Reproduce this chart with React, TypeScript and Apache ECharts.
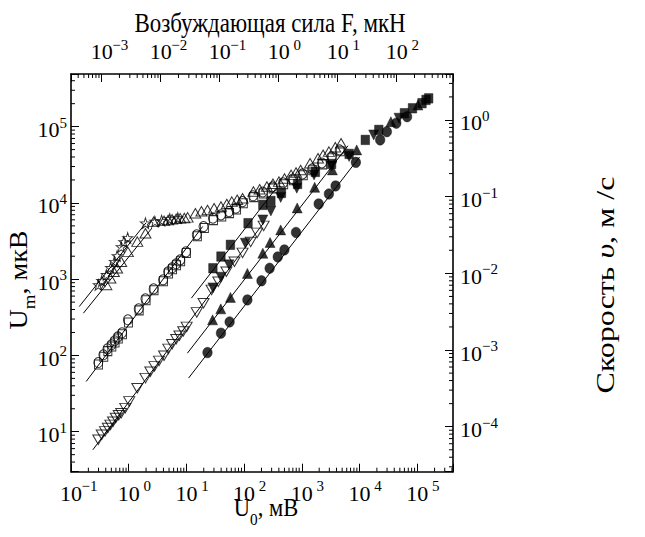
import { useEffect, useRef } from 'react';
import * as echarts from 'echarts';

// ---- axis ranges (log axes) ----
const U0_RANGE = [0.1, 4.17e5];      // bottom, U0, mV
const UM_RANGE = [2.99, 4.9e5];      // left, Um, uV
const F_RANGE = [3.02e-4, 899];      // top, F, uN
const V_RANGE = [2.59e-5, 3.98];     // right, v, m/s

// ---- data: [U0 (mV), Um (uV)] ----
const starOpen = [
  [0.297, 841], [0.341, 951], [0.41, 1140], [0.486, 1410], [0.566, 1700], [0.63, 2020],
  [0.741, 2650], [0.824, 3080], [0.959, 3480], [1.95, 5420], [2.84, 5690], [3.72, 5860],
  [5.14, 6170], [7.1, 6350],
];
const triUpOpen = [
  [0.41, 841], [0.482, 1030], [0.553, 1250], [0.63, 1390], [0.741, 1690], [0.968, 2280],
  [1.41, 3110], [1.95, 4010], [2.7, 5640], [4.1, 5810], [4.82, 5980], [5.66, 6080],
  [6.65, 6170], [7.82, 6270], [9.2, 6350], [10.5, 6460], [14.3, 7330], [18.2, 7760],
  [23.2, 8090], [30.2, 8510], [39.7, 8950], [50.1, 9660], [61.2, 10400], [75.9, 11000],
  [94, 11500], [145, 14100], [186, 15100], [248, 16400], [316, 17800], [402, 19000],
  [501, 20900], [653, 23300], [794, 25100], [953, 27000], [1390, 33100], [1910, 38500],
  [2340, 42700], [2950, 47000], [3800, 53700], [4790, 60500],
];
const circleOpen = [
  [0.297, 80.8], [0.364, 102], [0.428, 122], [0.502, 138], [0.571, 156], [0.65, 175],
  [0.766, 198], [0.968, 293], [1.49, 408], [1.95, 552], [2.7, 746], [3.94, 980],
  [4.82, 1250], [5.66, 1410], [6.65, 1590], [7.82, 1790], [9.82, 2280], [15.1, 3810],
  [19.8, 4890], [28.8, 6300], [39.7, 6970], [54.8, 7690], [71.9, 8530], [94, 10400],
  [143, 12400], [211, 13900], [310, 16200], [473, 18300], [697, 20600], [1030, 24000],
  [1510, 27900], [2230, 33400], [3280, 40100], [4530, 49500],
];
const squareOpen = [
  [0.3, 76], [0.37, 96], [0.435, 114], [0.51, 131], [0.58, 148], [0.66, 167], [0.78, 190],
  [0.99, 270], [1.52, 390], [2.0, 530], [2.75, 715], [4.0, 940], [4.9, 1190], [5.75, 1350],
  [6.75, 1520], [7.95, 1720], [10.0, 2200], [15.5, 3650], [20.5, 4700], [29.5, 5950],
  [41, 6650], [56, 7350], [74, 8200], [97, 9900], [147, 11900], [216, 13300], [318, 15500],
  [485, 17600], [714, 19800], [1060, 23000], [1550, 26800], [2290, 32000], [3360, 38500],
  [4650, 47500],
];
const triDownOpen = [
  [0.297, 7.83], [0.341, 9.12], [0.388, 10.1], [0.435, 11.2], [0.482, 12.3], [0.536, 13.5],
  [0.597, 15.1], [0.671, 16.4], [0.741, 17.5], [0.871, 20.4], [1.02, 25], [1.41, 37.2],
  [1.95, 50.4], [2.37, 61], [2.79, 71.9], [3.35, 84.9], [4.1, 98.9], [4.86, 122],
  [5.66, 140], [6.65, 163], [7.57, 181], [8.81, 206], [10.1, 237], [15.1, 367], [19.8, 484],
  [27.3, 724], [35.7, 923], [49.3, 1250], [68.1, 1690], [94, 2210], [130, 3080],
  [168, 4050], [218, 5000],
];
const squareFilled = [
  [28.8, 1390], [39.7, 1980], [57.9, 2820], [117, 5420], [211, 9420], [291, 10600],
  [444, 13500], [845, 17700], [1720, 25500], [3280, 32400], [6610, 43900], [12600, 67000],
  [21600, 90600], [60000, 150000], [82800, 174000], [121000, 203000], [142000, 224000],
  [158000, 235000],
];
const triDownFilled = [
  [28.8, 769], [39.7, 1060], [54.8, 1540], [105, 2960], [211, 5980], [291, 7850],
  [430, 11800], [818, 15600], [1630, 23300], [3280, 30500], [6610, 40500], [17600, 77800],
  [48300, 129000],
];
const triUpFilled = [
  [28.4, 293], [39.4, 408], [57.9, 577], [114, 1190], [211, 2190], [282, 3030], [430, 4430],
  [832, 8590], [1670, 16000], [3390, 27100], [8930, 49500], [35000, 116000], [103000, 192000],
];
const dotFilled = [
  [23.2, 109], [39.7, 196], [56.1, 275], [114, 535], [200, 951], [277, 1390], [383, 1960],
  [499, 2420], [793, 4100], [1960, 9700], [2950, 13100], [3850, 16700], [8650, 34000],
  [22800, 67000], [29800, 85900], [43400, 111000], [66800, 135000],
];

// ---- fitted straight lines (end points) ----
const fitStar = [[0.139, 438], [2.0, 5500]];
const fitTriUp = [[0.164, 358], [2.53, 4680]];
const fitCircle = [[0.183, 45.5], [19.1, 4900]];
const fitTriDown = [[0.239, 5.79], [224, 5620]];
const fitSquare = [[12.2, 564], [355, 15400]];
const fitTriFilled = [[10.4, 107], [6310, 56200]];
const fitDot = [[10.9, 50.5], [10000, 39800]];

const FONT = '"Liberation Serif", "Times New Roman", serif';
const STAR = 'path://M0,-10 L2.35,-3.24 L9.51,-3.09 L3.8,1.24 L5.88,8.09 L0,4 L-5.88,8.09 L-3.8,1.24 L-9.51,-3.09 L-2.35,-3.24 Z';

const expText = (v: number) => {
  const e = Math.log10(v);
  const r = Math.round(e);
  if (Math.abs(e - r) > 1e-6) return null;
  return r < 0 ? '\u2212' + (-r) : String(r);
};
const labelX = (v: number) => {
  const s = expText(v);
  return s === null ? '' : `{p| }{b|10}{e|${s}}`;
};
const labelY = (v: number) => {
  const s = expText(v);
  return s === null ? '' : `{b|10}{e|${s}}`;
};
const richX = {
  p: { width: 15, fontSize: 15, verticalAlign: 'top', fontFamily: FONT },
  b: { fontSize: 22, lineHeight: 29, fontFamily: FONT, color: '#000' },
  e: { width: 15, align: 'left', fontSize: 15, verticalAlign: 'top', fontFamily: FONT, color: '#000' },
};
const richY = {
  b: { fontSize: 22, lineHeight: 29, fontFamily: FONT, color: '#000' },
  e: { fontSize: 15, verticalAlign: 'top', fontFamily: FONT, color: '#000' },
};

const minorValues = (lo: number, hi: number) => {
  const out: number[] = [];
  for (let d = Math.floor(Math.log10(lo)); d <= Math.ceil(Math.log10(hi)); d++) {
    for (let m = 2; m <= 9; m++) {
      const v = m * Math.pow(10, d);
      if (v > lo && v < hi) out.push(v);
    }
  }
  return out;
};

const axisLine = { show: true, onZero: false, lineStyle: { color: '#000', width: 1.6 } };
const axisTick = { show: true, inside: true, length: 8, lineStyle: { color: '#000', width: 1 } };

const tickSeries = (side: string) => {
  const isX = side === 'bottom' || side === 'top';
  const range = side === 'bottom' ? U0_RANGE : side === 'top' ? F_RANGE : side === 'left' ? UM_RANGE : V_RANGE;
  const data = minorValues(range[0], range[1]).map((v) => (isX ? [v, UM_RANGE[0]] : [U0_RANGE[0], v]));
  return {
    type: 'custom',
    xAxisIndex: side === 'top' ? 1 : 0,
    yAxisIndex: side === 'right' ? 1 : 0,
    silent: true,
    clip: false,
    z: 4,
    data,
    renderItem: (params: any, api: any) => {
      const p = api.coord([api.value(0), api.value(1)]);
      const cs = params.coordSys;
      let shape;
      if (isX) {
        const y0 = side === 'bottom' ? cs.y + cs.height : cs.y;
        const dir = side === 'bottom' ? -1 : 1;
        shape = { x1: p[0], y1: y0, x2: p[0], y2: y0 + dir * 4 };
      } else {
        const x0 = side === 'left' ? cs.x : cs.x + cs.width;
        const dir = side === 'left' ? 1 : -1;
        shape = { x1: x0, y1: p[1], x2: x0 + dir * 4, y2: p[1] };
      }
      return { type: 'line', shape, style: { stroke: '#000', lineWidth: 1 } };
    },
  };
};

const fitLine = (d: number[][]) => ({
  type: 'line',
  data: d,
  symbol: 'none',
  silent: true,
  z: 2,
  lineStyle: { color: '#000', width: 1 },
});

const OPEN = { color: 'rgba(255,255,255,0)', borderColor: '#000', borderWidth: 1 };
const FILLED = { color: '#000', borderColor: '#000', borderWidth: 0.5 };

const scatter = (data: number[][], symbol: string, size: any, style: any, rotate = 0) => ({
  type: 'scatter',
  data,
  symbol,
  symbolSize: size,
  symbolRotate: rotate,
  silent: true,
  z: 3,
  itemStyle: style,
});

const titleText = (x: number, y: number, rot: number, sx: number, sy: number, text: string, rich: any) => ({
  type: 'text', x, y, rotation: rot, scaleX: sx, scaleY: sy,
  style: {
    text, fill: '#000', rich,
    align: 'center', verticalAlign: 'middle', textAlign: 'center', textVerticalAlign: 'middle',
  },
});

export default function App() {
  const ref = useRef<HTMLDivElement>(null);
  useEffect(() => {
    if (!ref.current) return;
    const chart = echarts.init(ref.current, undefined, { renderer: 'svg' });
    // subscript: main text centred in a tall line, subscript pushed to the bottom
    const subRich = (size: number, lh: number) => ({
      a: { fontSize: size, lineHeight: 20, fontFamily: FONT, color: '#000' },
      s: { fontSize: Math.round(size * 0.68), lineHeight: lh, verticalAlign: 'bottom', fontFamily: FONT, color: '#000' },
    });
    const option: any = {
      animation: false,
      backgroundColor: '#fff',
      grid: { left: 71, right: 192, top: 74, bottom: 65.3 },
      xAxis: [
        {
          type: 'log', logBase: 10, position: 'bottom', min: U0_RANGE[0], max: U0_RANGE[1],
          axisLine, axisTick, splitLine: { show: false },
          axisLabel: { formatter: labelX, rich: richX, margin: 7.1, interval: 0, showMinLabel: true, showMaxLabel: true },
        },
        {
          type: 'log', logBase: 10, position: 'top', min: F_RANGE[0], max: F_RANGE[1],
          axisLine, axisTick, splitLine: { show: false },
          axisLabel: { formatter: labelX, rich: richX, margin: 7.8, interval: 0, showMinLabel: true, showMaxLabel: true },
        },
      ],
      yAxis: [
        {
          type: 'log', logBase: 10, position: 'left', min: UM_RANGE[0], max: UM_RANGE[1],
          axisLine, axisTick, splitLine: { show: false },
          axisLabel: { formatter: labelY, rich: richY, margin: 4, padding: [6, 0, 0, 0], interval: 0, showMinLabel: true, showMaxLabel: true },
        },
        {
          type: 'log', logBase: 10, position: 'right', min: V_RANGE[0], max: V_RANGE[1],
          axisLine, axisTick, splitLine: { show: false },
          axisLabel: { formatter: labelY, rich: richY, margin: 7, padding: [6, 0, 0, 0], interval: 0, showMinLabel: true, showMaxLabel: true },
        },
      ],
      graphic: [
        titleText(270, 23, 0, 0.85, 1, '{a|Возбуждающая сила F, мкН}', {
          a: { fontSize: 27, lineHeight: 22, fontFamily: FONT, color: '#000' },
        }),
        titleText(266, 508, 0, 0.9, 1, '{a|U}{s|0}{a|, мВ}', subRich(25, 40)),
        titleText(19, 280, Math.PI / 2, 1, 0.87, '{a|U}{s|m}{a|, мкВ}', subRich(28, 42)),
        titleText(605, 285, Math.PI / 2, 1, 0.8, '{a|Скорость }{i|υ}{a|, м /с}', {
          a: { fontSize: 32, lineHeight: 30, fontFamily: FONT, color: '#000' },
          i: { fontSize: 32, lineHeight: 30, fontStyle: 'italic', fontFamily: FONT, color: '#000' },
        }),
      ],
      series: [
        tickSeries('bottom'), tickSeries('top'), tickSeries('left'), tickSeries('right'),
        fitLine(fitStar), fitLine(fitTriUp), fitLine(fitCircle), fitLine(fitTriDown),
        fitLine(fitSquare), fitLine(fitTriFilled), fitLine(fitDot),
        scatter(starOpen, STAR, [10, 10.5], OPEN),
        scatter(triUpOpen, 'triangle', [11, 9.5], OPEN),
        scatter(circleOpen, 'circle', [9, 10], OPEN),
        scatter(squareOpen, 'rect', [8, 9], OPEN),
        scatter(triDownOpen, 'triangle', [11, 9.5], OPEN, 180),
        scatter(squareFilled, 'rect', [8.5, 9.5], FILLED),
        scatter(triDownFilled, 'triangle', [10, 10], FILLED, 180),
        scatter(triUpFilled, 'triangle', [10, 10], FILLED),
        scatter(dotFilled, 'circle', [9.5, 10.5], FILLED),
      ],
    };
    chart.setOption(option);
    return () => chart.dispose();
  }, []);
  return (
    <div
      ref={ref}
      style={{ position: 'fixed', left: 0, top: 0, width: 645, height: 537, background: '#fff' }}
    />
  );
}
